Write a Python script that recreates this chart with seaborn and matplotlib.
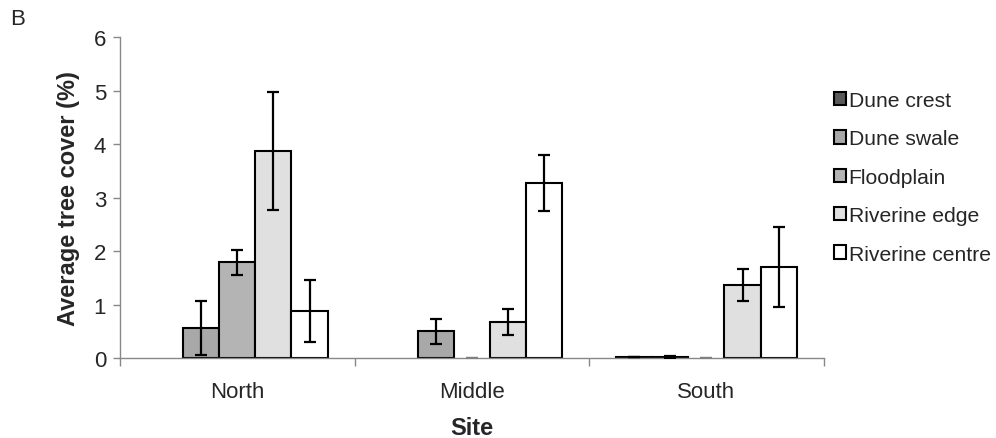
import numpy as np
import pandas as pd
import matplotlib
matplotlib.use("Agg")
import matplotlib.pyplot as plt
from matplotlib.patches import Patch
import seaborn as sns

sites = ["North", "Middle", "South"]
habitats = ["Dune crest", "Dune swale", "Floodplain", "Riverine edge", "Riverine centre"]
colors = ["#5a5a5a", "#a8a8a8", "#b4b4b4", "#e0e0e0", "#ffffff"]

# mean tree cover (%) per habitat, ordered by site (North, Middle, South); NaN = not sampled
dune_crest = [np.nan, np.nan, 0.02]
dune_swale = [0.56, 0.50, 0.02]
floodplain = [1.79, 0.0, 0.0]
riverine_edge = [3.87, 0.67, 1.36]
riverine_centre = [0.88, 3.27, 1.70]

# standard errors
se_dune_crest = [np.nan, np.nan, 0.0]
se_dune_swale = [0.51, 0.23, 0.02]
se_floodplain = [0.23, 0.0, 0.0]
se_riverine_edge = [1.10, 0.24, 0.30]
se_riverine_centre = [0.58, 0.52, 0.75]

means = [dune_crest, dune_swale, floodplain, riverine_edge, riverine_centre]
ses = [se_dune_crest, se_dune_swale, se_floodplain, se_riverine_edge, se_riverine_centre]

rows = []
for h, m, s in zip(habitats, means, ses):
    for site, v, e in zip(sites, m, s):
        rows.append({"Site": site, "Habitat": h, "cover": v, "se": e})
df = pd.DataFrame(rows)

sns.set_style("white")
plt.rcParams["font.family"] = ["Liberation Sans", "DejaVu Sans"]

fig = plt.figure(figsize=(9.96, 4.39), dpi=100)
ax = fig.add_axes([0.1205, 0.1822, 0.7065, 0.7312])

sns.barplot(data=df, x="Site", y="cover", hue="Habitat", order=sites,
            hue_order=habitats, palette=colors, errorbar=None, width=0.77,
            edgecolor="black", linewidth=1.5, saturation=1, ax=ax, legend=False)

for p in ax.patches:
    h = p.get_height()
    if h == 0 or np.isnan(h):
        p.set_linewidth(0)

width_each = 0.77 / len(habitats)
for hi, h in enumerate(habitats):
    for si, site in enumerate(sites):
        v = means[hi][si]
        e = ses[hi][si]
        if np.isnan(v):
            continue
        xc = si - 0.77 / 2 + width_each * (hi + 0.5)
        col = "#808080" if (v == 0 and e == 0) else "black"
        ax.errorbar(xc, v, yerr=e, fmt="none", ecolor=col, elinewidth=1.6,
                    capsize=4.3, capthick=1.6, zorder=5)

ax.set_ylim(0, 6)
ax.set_xlim(-0.5, 2.5)
ax.set_yticks(range(0, 7))
ax.set_xlabel("Site", fontsize=17, fontweight="bold", labelpad=10)
ax.set_ylabel("Average tree cover (%)", fontsize=17, fontweight="bold", labelpad=10)

for sp in ["top", "right"]:
    ax.spines[sp].set_visible(False)
for sp in ["left", "bottom"]:
    ax.spines[sp].set_color("#888888")
    ax.spines[sp].set_linewidth(1.0)

ax.tick_params(axis="y", which="both", left=True, length=5, width=1.0,
               color="#888888", labelsize=16, pad=5)
ax.set_xticks(range(3))
ax.set_xticklabels(sites)
ax.tick_params(axis="x", which="major", bottom=False, labelsize=16, pad=13)
ax.set_xticks([-0.5, 0.5, 1.5, 2.5], minor=True)
ax.tick_params(axis="x", which="minor", bottom=True, length=6, width=1.0,
               color="#888888")

handles = [Patch(facecolor=c, edgecolor="black", linewidth=1.5) for c in colors]
leg = ax.legend(handles, habitats, loc="upper left", bbox_to_anchor=(0.99, 0.885),
                frameon=False, fontsize=15.2, handlelength=0.6, handleheight=0.6,
                handletextpad=0.12, labelspacing=0.92, borderaxespad=0.4)

fig.text(0.01, 0.955, "B", fontsize=16, ha="left", va="center")

fig.savefig("out.png", dpi=100)
